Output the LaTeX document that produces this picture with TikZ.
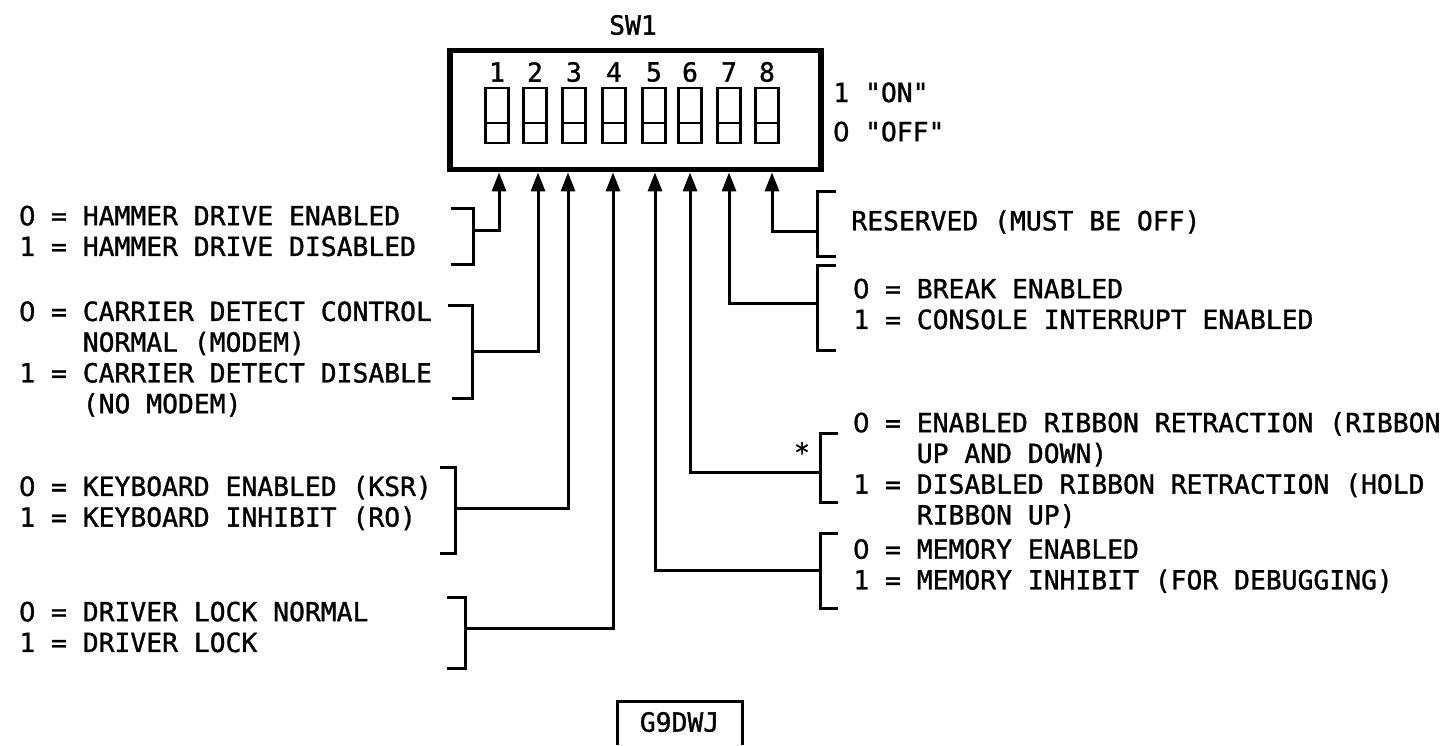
\documentclass[tikz,border=0pt]{standalone}
\usepackage{fontspec}
\setmonofont{DejaVu Sans Mono}[BoldFont={DejaVu Sans Mono}, BoldFeatures={FakeBold=1.2}]
\newfontfamily\zerofont{DejaVu Sans}[FakeBold=1.2]
\newcommand{\zro}{\makebox[0.602em]{\zerofont\mdseries 0}}
\usetikzlibrary{arrows.meta}
\begin{document}
\begin{tikzpicture}[x=0.02cm, y=-0.02cm,
    every node/.style={font=\ttfamily\bfseries\fontsize{15}{17.5}\selectfont, inner sep=0pt},
    lbl/.style={anchor=west, align=left},
    pin/.style={line width=1.7pt, -{Triangle[width=0.28cm, length=0.38cm]}},
    brk/.style={line width=1.7pt}]
  \useasboundingbox (0,0) rectangle (1452,745);
  % switch block
  \node (title) at (633,25) {SW1};
  \node[draw, line width=3pt, minimum width=7.42cm, minimum height=2.39cm] (sw) at (635.5,110) {};
  \foreach \n/\x in {1/497,2/535,3/574,4/614,5/654,6/690,7/729,8/767} {
    \node (num\n) at (\x,72) {\n};
    \draw[line width=1.5pt] (\x-11.5,88) rectangle (\x+11.5,143);
    \draw[line width=1.5pt] (\x-11.5,123) -- (\x+11.5,123);
  }
  \node[lbl] (onoff) at (833,112) {1 "ON"\\[4.8pt]\zro{} "OFF"};
  % arrow columns
  \foreach \n/\x in {1/499,2/538,3/568,4/613,5/655,6/690,7/729,8/772}
    \coordinate (a\n) at (\x,0);
  % left side
  \node[lbl] (hammer) at (19,231) {\zro{} = HAMMER DRIVE ENABLED\\1 = HAMMER DRIVE DISABLED};
  \node[lbl] (carrier) at (19,359) {\zro{} = CARRIER DETECT CONTROL\\\phantom{0 = }NORMAL (MODEM)\\1 = CARRIER DETECT DISABLE\\\phantom{0 = }(NO MODEM)};
  \node[lbl] (keybd) at (19,503) {\zro{} = KEYBOARD ENABLED (KSR)\\1 = KEYBOARD INHIBIT (RO)};
  \node[lbl] (drvlock) at (19,627) {\zro{} = DRIVER LOCK NORMAL\\1 = DRIVER LOCK};
  \draw[brk] (451,208) -- (473,208) -- (473,264) -- (451,264);
  \draw[brk] (448,305) -- (472,305) -- (472,398) -- (452,398);
  \draw[brk] (440,467) -- (455,467) -- (455,553) -- (440,553);
  \draw[brk] (447,597) -- (465,597) -- (465,668) -- (447,668);
  \coordinate (k1) at (473,230);
  \coordinate (k2) at (472,351);
  \coordinate (k3) at (455,508);
  \coordinate (k4) at (465,628);
  % right side
  \node[lbl] (reserved) at (851,222) {RESERVED (MUST BE OFF)};
  \node[lbl] (breakint) at (853,304) {\zro{} = BREAK ENABLED\\1 = CONSOLE INTERRUPT ENABLED};
  \node[lbl] (ribbon) at (853,470) {\zro{} = ENABLED RIBBON RETRACTION (RIBBON\\\phantom{0 = }UP AND DOWN)\\1 = DISABLED RIBBON RETRACTION (HOLD\\\phantom{0 = }RIBBON UP)};
  \node[lbl] (memory) at (853,566) {\zro{} = MEMORY ENABLED\\1 = MEMORY INHIBIT (FOR DEBUGGING)};
  \node (star) at (802,452) {*};
  \draw[brk] (836,191) -- (817,191) -- (817,256) -- (836,256);
  \draw[brk] (836,265) -- (817,265) -- (817,350) -- (836,350);
  \draw[brk] (838,433) -- (820,433) -- (820,502) -- (838,502);
  \draw[brk] (838,533) -- (820,533) -- (820,608) -- (838,608);
  \coordinate (k5) at (820,570);
  \coordinate (k6) at (820,472);
  \coordinate (k7) at (817,303);
  \coordinate (k8) at (817,231);
  % connectors
  \foreach \n in {1,...,8}
    \draw[pin] (k\n) -| (a\n |- sw.south);
  % drawing number
  \draw[brk] (617,745) -- (617,701) -- (742,701) -- (742,745);
  \node (dwg) at (679.5,722) {G9DWJ};
\end{tikzpicture}
\end{document}
